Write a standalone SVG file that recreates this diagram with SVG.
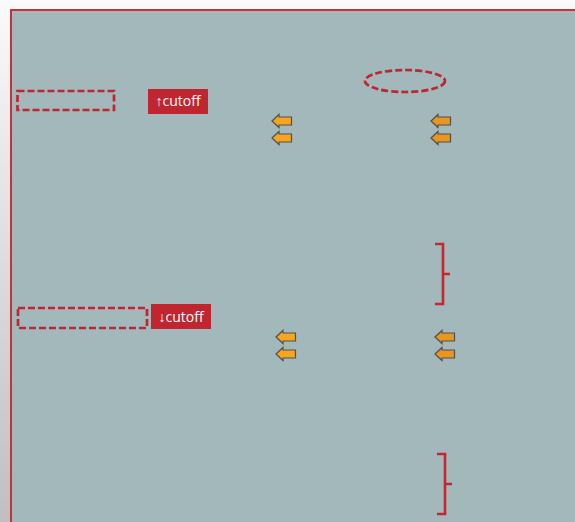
<svg xmlns="http://www.w3.org/2000/svg" width="575" height="522" viewBox="0 0 575 522">
<defs>
<linearGradient id="bg" x1="0" y1="0" x2="0" y2="1">
<stop offset="0" stop-color="#fafafa"/>
<stop offset="1" stop-color="#bfbfbf"/>
</linearGradient>
<path id="arr" d="M0,0 L7,-6.5 L7,-4 L19.5,-4 L19.5,4 L7,4 L7,6.5 Z"/>
</defs>
<style>
.dash{fill:none;stroke:#c0262f;stroke-width:2.7;stroke-dasharray:7,3}
.lbl{fill:#c0262f}
.lt{fill:#ffffff;font-family:"Open Sans","Liberation Sans",Arial,sans-serif;font-size:14px;text-anchor:middle}
.al{fill:#f6a51e;stroke:#505050;stroke-width:1.2}
.ar{fill:#e9961f;stroke:#505050;stroke-width:1.2}
.br{fill:none;stroke:#c8262f;stroke-width:2.6}
</style>
<rect x="0" y="0" width="575" height="522" fill="url(#bg)"/>
<rect id="frame" x="11" y="10" width="570" height="520" fill="#a3b8bb" stroke="#c8303a" stroke-width="2"/>
<g id="box1"><rect class="dash" x="17.5" y="91" width="96.5" height="19"/></g>
<g id="label1"><rect class="lbl" x="148" y="89" width="60" height="25"/><text class="lt" x="178" y="106">↑cutoff</text></g>
<g id="ellipse1"><ellipse class="dash" cx="405" cy="81" rx="40" ry="11"/></g>
<g id="box2"><rect class="dash" x="18" y="308" width="129" height="20"/></g>
<g id="label2"><rect class="lbl" x="151" y="304" width="60" height="25"/><text class="lt" x="181" y="322">↓cutoff</text></g>
<g id="arrows">
<use href="#arr" class="al" x="272" y="121"/>
<use href="#arr" class="al" x="272" y="138"/>
<use href="#arr" class="ar" x="431" y="121"/>
<use href="#arr" class="ar" x="431" y="138"/>
<use href="#arr" class="al" x="276" y="337"/>
<use href="#arr" class="al" x="276" y="354"/>
<use href="#arr" class="ar" x="435" y="337"/>
<use href="#arr" class="ar" x="435" y="354"/>
</g>
<g id="brace1"><path class="br" d="M435,244 H443 V304 H435 M443,274 H450"/></g>
<g id="brace2"><path class="br" d="M437,454 H445 V514 H437 M445,484 H452"/></g>
</svg>
